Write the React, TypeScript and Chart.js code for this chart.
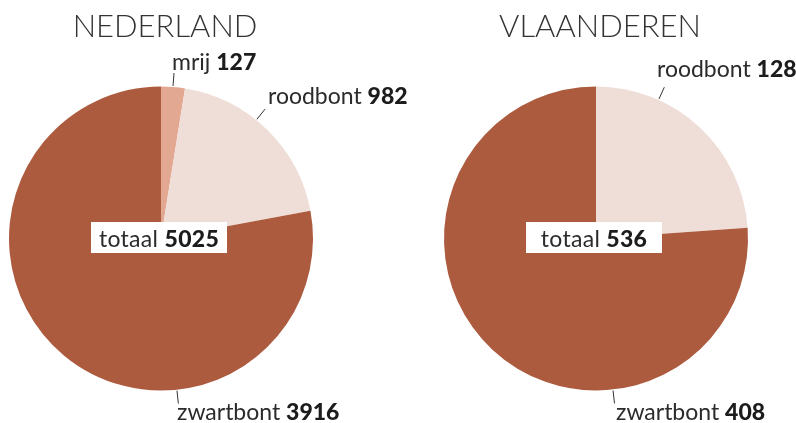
import React, { useEffect, useRef } from "react";
import { Chart, registerables } from "chart.js";

Chart.register(...registerables);

const nlTitle = "NEDERLAND";
const nlCategories = ["mrij", "roodbont", "zwartbont"];
const nlValues = [127, 982, 3916];
const nlColors = ["#E3A891", "#EFDED7", "#AD5B3F"];

const vlTitle = "VLAANDEREN";
const vlCategories = ["roodbont", "zwartbont"];
const vlValues = [128, 408];
const vlColors = ["#EFDED7", "#AD5B3F"];

const totalWord = "totaal";

const FONT = "Lato, 'Open Sans', sans-serif";
const TEXT = "#2b2b2b";
const BOLD = "#1c1c1c";

type LabelSpec = { angle: number; x: number; y: number };

function drawMixed(ctx: CanvasRenderingContext2D, x: number, y: number, a: string, b: string, size: number, align: "left" | "center", spacing: string) {
  (ctx as any).letterSpacing = spacing;
  ctx.font = `400 ${size}px ${FONT}`;
  const wa = ctx.measureText(a + " ").width;
  ctx.font = `900 ${size}px ${FONT}`;
  const wb = ctx.measureText(b).width;
  let sx = x;
  if (align === "center") sx = x - (wa + wb) / 2;
  ctx.textAlign = "left";
  ctx.textBaseline = "alphabetic";
  ctx.font = `400 ${size}px ${FONT}`;
  ctx.fillStyle = TEXT;
  ctx.fillText(a + " ", sx, y);
  ctx.font = `900 ${size}px ${FONT}`;
  ctx.fillStyle = BOLD;
  ctx.fillText(b, sx + wa, y);
  (ctx as any).letterSpacing = "0px";
}

function makePlugin(title: string, cats: string[], vals: number[], specs: LabelSpec[]) {
  return {
    id: "annot",
    afterDraw(chart: any) {
      const ctx: CanvasRenderingContext2D = chart.ctx;
      const arc = chart.getDatasetMeta(0).data[0];
      const cx = arc.x, cy = arc.y, r = arc.outerRadius;
      ctx.save();
      // title
      ctx.font = `300 31px ${FONT}`;
      ctx.fillStyle = "#333333";
      ctx.textAlign = "center";
      ctx.textBaseline = "alphabetic";
      ctx.fillText(title, cx + 4, 37);
      // labels
      cats.forEach((c, i) => {
        const s = specs[i];
        const a = (s.angle * Math.PI) / 180;
        ctx.strokeStyle = "#333333";
        ctx.lineWidth = 1;
        ctx.beginPath();
        ctx.moveTo(cx + Math.sin(a) * (r + 1), cy - Math.cos(a) * (r + 1));
        ctx.lineTo(cx + Math.sin(a) * (r + 14), cy - Math.cos(a) * (r + 14));
        ctx.stroke();
        drawMixed(ctx, s.x, s.y, c, String(vals[i]), 23, "left", "0px");
      });
      // total box
      const total = vals.reduce((p, v) => p + v, 0);
      ctx.fillStyle = "#ffffff";
      ctx.fillRect(cx - 70, cy - 16.5, 136, 31);
      drawMixed(ctx, cx - 2, cy + 8, totalWord, String(total), 23, "center", "0.3px");
      ctx.restore();
    },
  };
}

function PieCanvas(props: { title: string; cats: string[]; vals: number[]; colors: string[]; padL: number; padR: number; specs: LabelSpec[] }) {
  const ref = useRef<HTMLCanvasElement>(null);
  useEffect(() => {
    const chart = new Chart(ref.current as HTMLCanvasElement, {
      type: "pie",
      data: {
        labels: props.cats,
        datasets: [{ data: props.vals, backgroundColor: props.colors, borderWidth: 0 }],
      },
      options: {
        responsive: false,
        animation: false,
        layout: { padding: { left: props.padL, right: props.padR, top: 86, bottom: 32 } },
        plugins: { legend: { display: false }, tooltip: { enabled: false } },
      },
      plugins: [makePlugin(props.title, props.cats, props.vals, props.specs)],
    } as any);
    return () => chart.destroy();
  }, []);
  return (
    <canvas
      ref={ref}
      width={796}
      height={423}
      style={{ position: "absolute", left: 0, top: 0, width: 796, height: 423 }}
    />
  );
}

export default function App() {
  return (
    <div style={{ position: "absolute", left: 0, top: 0, width: 796, height: 423, background: "#ffffff" }}>
      <PieCanvas
        title={nlTitle}
        cats={nlCategories}
        vals={nlValues}
        colors={nlColors}
        padL={9}
        padR={483}
        specs={[
          { angle: 4.5, x: 172, y: 70 },
          { angle: 38.8, x: 268, y: 104 },
          { angle: 174, x: 177, y: 420 },
        ]}
      />
      <PieCanvas
        title={vlTitle}
        cats={vlCategories}
        vals={vlValues}
        colors={vlColors}
        padL={444}
        padR={48}
        specs={[
          { angle: 24.3, x: 657, y: 77 },
          { angle: 173.6, x: 616, y: 420 },
        ]}
      />
    </div>
  );
}
